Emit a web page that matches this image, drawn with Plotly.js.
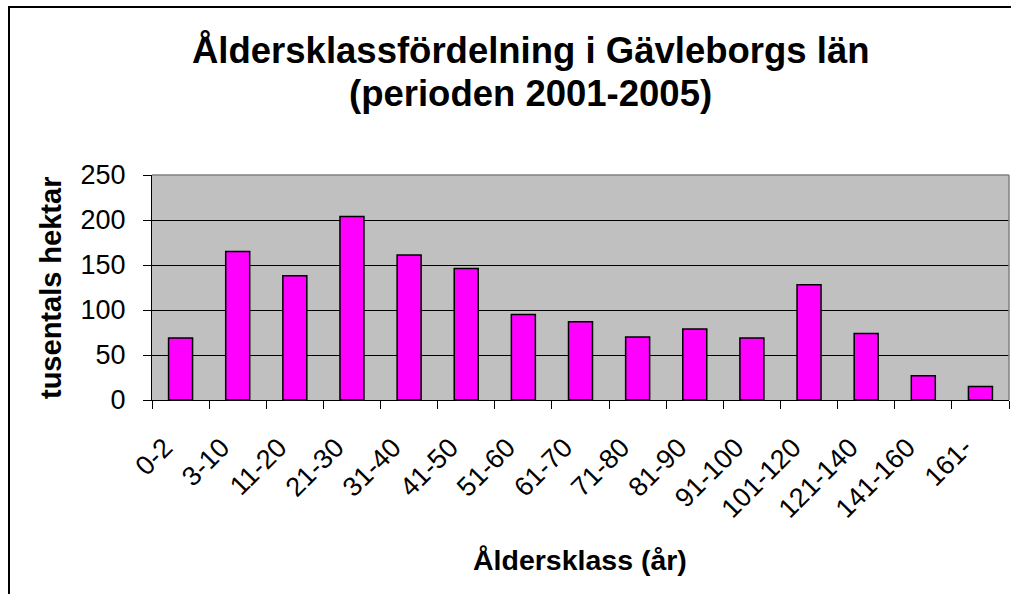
<!DOCTYPE html>
<html>
<head>
<meta charset="utf-8">
<script src="https://cdn.plot.ly/plotly-3.0.1.min.js"></script>
<style>
html,body{margin:0;padding:0;background:#fff;}
#chart{width:1011px;height:594px;}
</style>
</head>
<body>
<div id="chart"></div>
<script>
const categories = ["0-2","3-10","11-20","21-30","31-40","41-50","51-60","61-70","71-80","81-90","91-100","101-120","121-140","141-160","161-"];
const values = [69,165,138,204,161,146,95,87,70,79,69,128,74,27,15];
const yTicks = [0,50,100,150,200,250];
const titleLines = ["Åldersklassfördelning i Gävleborgs län", "(perioden 2001-2005)"];
const xTitle = "Åldersklass (år)";
const yTitle = "tusentals hektar";

const FONT = "Liberation Sans, Arial, sans-serif";

const trace = {
  type: "bar",
  x: categories,
  y: values,
  marker: {color: "#ff00ff", line: {color: "#000000", width: 1.5}},
  hoverinfo: "x+y"
};

const W = 1011, H = 594;
const mL = 152, mR = 2, mT = 175, mB = 194;
const pw = W - mL - mR, ph = H - mT - mB;
const px = v => (v - mL) / pw;          // container px -> paper x
const py = v => (H - mB - v) / ph;      // container px -> paper y

const layout = {
  width: W, height: H,
  margin: {l: mL, r: mR, t: mT, b: mB, pad: 0},
  paper_bgcolor: "#ffffff",
  plot_bgcolor: "#c0c0c0",
  showlegend: false,
  bargap: 0.58,
  xaxis: {
    type: "category",
    tickangle: -45,
    tickfont: {family: FONT, size: 27, color: "#000"},
    ticks: "outside", ticklen: 8, tickcolor: "#000", tickwidth: 1,
    tickson: "boundaries",
    showline: true, linecolor: "#000", linewidth: 1,
    showgrid: false,
    ticklabelstandoff: 20,
    ticklabelshift: -16,
    automargin: false
  },
  yaxis: {
    range: [0, 250],
    tickvals: yTicks,
    ticktext: yTicks.map(String),
    tickfont: {family: FONT, size: 27, color: "#000"},
    ticks: "outside", ticklen: 8, tickcolor: "#000", tickwidth: 1,
    showline: true, linecolor: "#000", linewidth: 1,
    showgrid: true, gridcolor: "#000", gridwidth: 1,
    zeroline: false,
    ticklabelstandoff: 12,
    automargin: false
  },
  annotations: [
    {text: "<b>" + titleLines[0] + "</b>", xref: "paper", yref: "paper", x: px(530), y: py(50),
      xanchor: "center", yanchor: "middle", showarrow: false, font: {family: FONT, size: 36.5, color: "#000"}},
    {text: "<b>" + titleLines[1] + "</b>", xref: "paper", yref: "paper", x: px(530), y: py(93),
      xanchor: "center", yanchor: "middle", showarrow: false, font: {family: FONT, size: 36.5, color: "#000"}},
    {text: "<b>" + xTitle + "</b>", xref: "paper", yref: "paper", x: px(580), y: py(560),
      xanchor: "center", yanchor: "middle", showarrow: false, font: {family: FONT, size: 28.5, color: "#000"}},
    {text: "<b>" + yTitle + "</b>", xref: "paper", yref: "paper", x: px(51), y: py(288), textangle: -90,
      xanchor: "center", yanchor: "middle", showarrow: false, font: {family: FONT, size: 29, color: "#000"}}
  ],
  shapes: [
    {type: "line", xref: "paper", yref: "paper", x0: 0, x1: 1, y0: 1, y1: 1, line: {color: "#808080", width: 1.5}},
    {type: "line", xref: "paper", yref: "paper", x0: 1, x1: 1, y0: 0, y1: 1, line: {color: "#808080", width: 1.5}},
    {type: "rect", xref: "paper", yref: "paper",
      x0: px(9), x1: px(W + 10), y0: py(H + 10), y1: py(7),
      line: {color: "#000", width: 2}, fillcolor: "rgba(0,0,0,0)", layer: "below"}
  ]
};

Plotly.newPlot("chart", [trace], layout, {displayModeBar: false, staticPlot: true});
</script>
</body>
</html>
